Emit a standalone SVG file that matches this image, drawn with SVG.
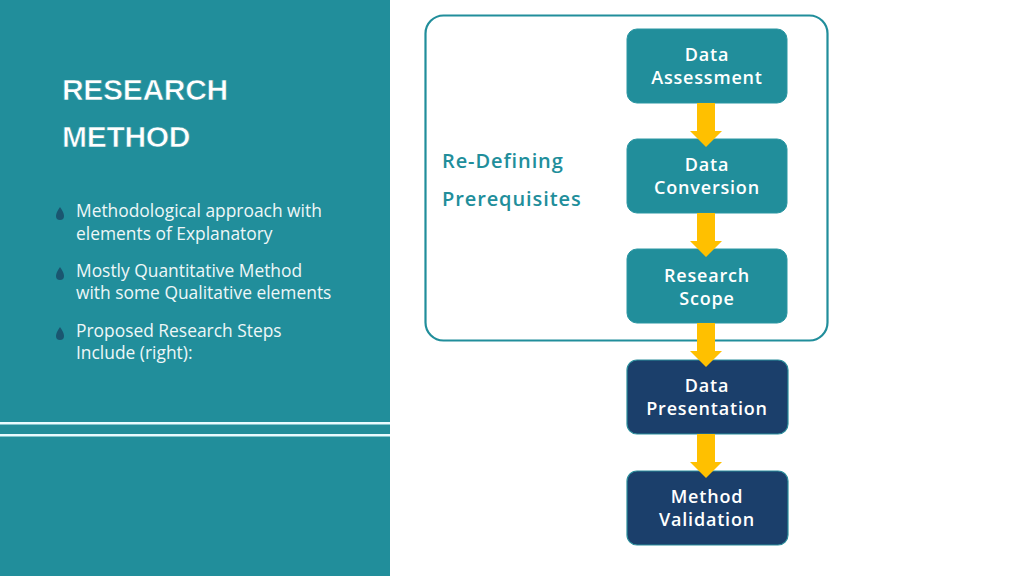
<svg xmlns="http://www.w3.org/2000/svg" width="1024" height="576" viewBox="0 0 1024 576">
<defs>
<style>
.title{font-family:"Liberation Sans",Arial,sans-serif;font-weight:bold;font-size:30px;fill:#ffffff;stroke:#218e9b;stroke-width:0.6;letter-spacing:-0.3px}
.bul{font-family:"Open Sans",sans-serif;font-size:17.4px;fill:#eef7f8}
.drop{fill:#1a5670}
.node{fill:#218e9b;stroke:#2a97a3;stroke-width:1}
.dark{fill:#1b3f6b;stroke:#2a8d9b;stroke-width:1.2}
.nt{font-family:"Open Sans",sans-serif;font-weight:600;font-size:18px;fill:#ffffff;text-anchor:middle;letter-spacing:0.8px}
.lbl{font-family:"Open Sans",sans-serif;font-weight:600;font-size:20px;fill:#218e9b;letter-spacing:0.9px}
.arr{fill:#ffc000}
</style>
<path id="dp" d="M0,-6 C2,-3 4,0 4,3 A4,4 0 0 1 -4,3 C-4,0 -2,-3 0,-6 Z"/>
<path id="ar" d="M-9,0 H9 V28 H16 L0,44 L-16,28 H-9 Z"/>
</defs>
<rect x="0" y="0" width="1024" height="576" fill="#ffffff"/>
<g id="left-panel">
<rect x="0" y="0" width="390" height="576" fill="#218e9b"/>
<rect x="0" y="422" width="390" height="2.5" fill="#e8fbff"/>
<rect x="0" y="434" width="390" height="2.5" fill="#e8fbff"/>
<text class="title" x="62" y="100">RESEARCH</text>
<text class="title" x="62" y="147">METHOD</text>
<use href="#dp" class="drop" x="60" y="213"/>
<text class="bul" x="76" y="217">Methodological approach with</text>
<text class="bul" x="76" y="240">elements of Explanatory</text>
<use href="#dp" class="drop" x="60" y="273"/>
<text class="bul" x="76" y="277">Mostly Quantitative Method</text>
<text class="bul" x="76" y="299">with some Qualitative elements</text>
<use href="#dp" class="drop" x="60" y="333"/>
<text class="bul" x="76" y="337">Proposed Research Steps</text>
<text class="bul" x="76" y="359">Include (right):</text>
</g>
<g id="container">
<rect x="425.5" y="15.5" width="402" height="325" rx="18" fill="none" stroke="#218e9b" stroke-width="2.2"/>
<text class="lbl" x="442" y="168">Re-Defining</text>
<text class="lbl" x="442" y="206">Prerequisites</text>
</g>
<g id="n1">
<rect class="node" x="627" y="29" width="160" height="74" rx="10"/>
<text class="nt" x="707" y="61">Data</text>
<text class="nt" x="707" y="84">Assessment</text>
</g>
<g id="n2">
<rect class="node" x="627" y="139" width="160" height="74" rx="10"/>
<text class="nt" x="707" y="171">Data</text>
<text class="nt" x="707" y="194">Conversion</text>
</g>
<g id="n3">
<rect class="node" x="627" y="249" width="160" height="74" rx="10"/>
<text class="nt" x="707" y="282">Research</text>
<text class="nt" x="707" y="305">Scope</text>
</g>
<g id="n4">
<rect class="dark" x="627" y="360" width="161" height="74" rx="10"/>
<text class="nt" x="707" y="392">Data</text>
<text class="nt" x="707" y="415">Presentation</text>
</g>
<g id="n5">
<rect class="dark" x="627" y="471" width="161" height="74" rx="10"/>
<text class="nt" x="707" y="503">Method</text>
<text class="nt" x="707" y="526">Validation</text>
</g>
<g id="connectors">
<use href="#ar" class="arr" x="706" y="103"/>
<use href="#ar" class="arr" x="706" y="213"/>
<use href="#ar" class="arr" x="706" y="323"/>
<use href="#ar" class="arr" x="706" y="434"/>
</g>
</svg>
